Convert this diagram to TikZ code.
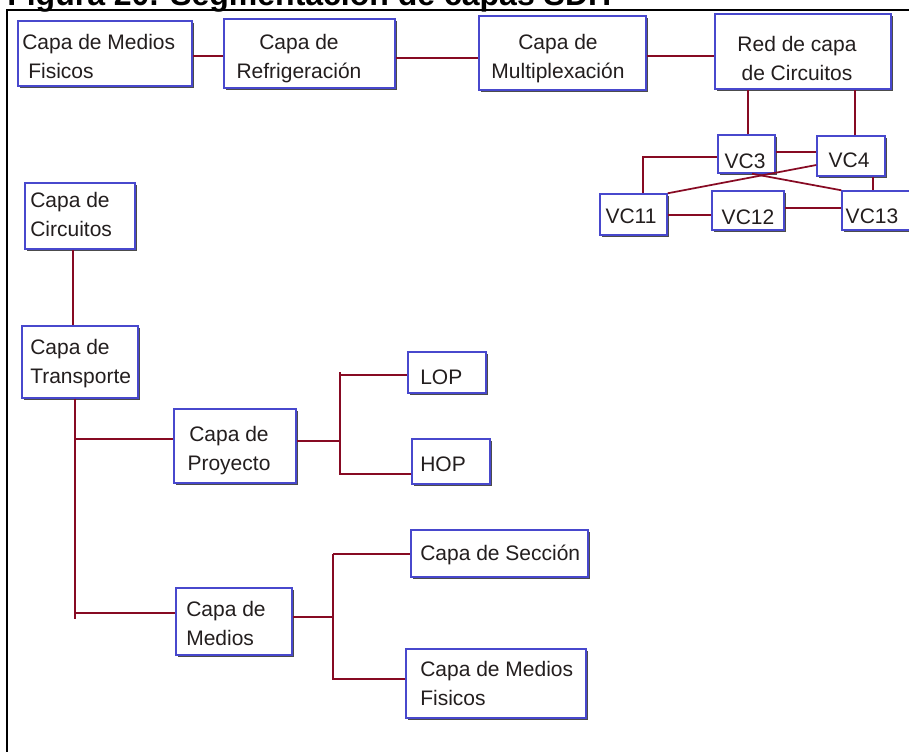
\documentclass[tikz,border=0pt]{standalone}
\usepackage{fontspec}
\setmainfont{Liberation Sans}
\usetikzlibrary{calc,shadows}
\definecolor{boxblue}{RGB}{72,72,205}
\definecolor{linkred}{RGB}{135,10,35}
\definecolor{inkc}{RGB}{35,30,30}
\newdimen\pxu \pxu=0.75pt

\begin{document}
\begin{tikzpicture}[x=0.75pt,y=-0.75pt,
  box/.style={draw=boxblue, line width=1.1pt, fill=white, inner sep=0pt,
    drop shadow={shadow xshift=1.3pt, shadow yshift=-1.3pt, opacity=1, fill=black!70}},
  lbl/.style={inner sep=0pt, text=inkc, font=\fontsize{15.75}{21.4}\selectfont},
  link/.style={draw=linkred, line width=1.8pt},
  fine link/.style={draw=linkred, line width=1.3pt},
  frame/.style={draw=black, line width=1.3pt}]
\useasboundingbox (0,0) rectangle (909,751);

% caption and frame
\node[inner sep=0pt, anchor=base west, text=black, font=\fontsize{24}{28}\selectfont\bfseries]
  (title) at (7,5.5) {Figura 20. Segmentación de capas SDH};
\coordinate (frameTL) at (7,10);
\coordinate (frameTR) at (915,10);
\coordinate (frameBL) at (7,760);
\draw[frame] (frameTR) -- (frameTL) -- (frameBL);

% top chain of layers
\node[box, minimum width=174\pxu, minimum height=65\pxu] (mf1) at (105,53.5) {};
\node[box, minimum width=171\pxu, minimum height=69\pxu] (refr) at (309.5,53.5) {};
\node[box, minimum width=167\pxu, minimum height=74\pxu] (mux) at (562.5,53) {};
\node[box, minimum width=176\pxu, minimum height=75\pxu] (red) at (803,51.5) {};

% two-line labels are placed by the baseline of their last line
\node[lbl, anchor=base west, align=left] (mf1-t) at (22,78.5) {Capa de Medios\\\hspace*{6\pxu}Fisicos};
\node[lbl, anchor=base, align=center] (refr-t) at (299,78) {Capa de\\Refrigeración};
\node[lbl, anchor=base, align=center] (mux-t) at (558,78) {Capa de\\Multiplexación};
\node[lbl, anchor=base, align=center] (red-t) at (797,80.5) {Red de capa\\de Circuitos};

% virtual containers
\node[box, minimum width=57\pxu, minimum height=38\pxu] (vc3) at (746.5,154) {};
\node[box, minimum width=68\pxu, minimum height=40\pxu] (vc4) at (851,156) {};
\node[box, minimum width=67\pxu, minimum height=41\pxu] (vc11) at (633.5,214.5) {};
\node[box, minimum width=72\pxu, minimum height=39\pxu] (vc12) at (748,210.5) {};
\node[box, minimum width=70\pxu, minimum height=39\pxu] (vc13) at (877,210.5) {};

\node[lbl, anchor=base] (vc3-t) at (745,168) {VC3};
\node[lbl, anchor=base] (vc4-t) at (849,167) {VC4};
\node[lbl, anchor=base] (vc11-t) at (631,223) {VC11};
\node[lbl, anchor=base] (vc12-t) at (748,224) {VC12};
\node[lbl, anchor=base] (vc13-t) at (872,223) {VC13};

% left hierarchy
\node[box, minimum width=110\pxu, minimum height=66\pxu] (circ) at (80,216) {};
\node[box, minimum width=116\pxu, minimum height=72\pxu] (trans) at (80,362) {};
\node[box, minimum width=122\pxu, minimum height=74\pxu] (proy) at (235,446) {};
\node[box, minimum width=78\pxu, minimum height=41\pxu] (lop) at (447,372.5) {};
\node[box, minimum width=78\pxu, minimum height=45\pxu] (hop) at (451,461.5) {};
\node[box, minimum width=116\pxu, minimum height=67\pxu] (medios) at (234,621.5) {};
\node[box, minimum width=177\pxu, minimum height=47\pxu] (secc) at (499.5,553.5) {};
\node[box, minimum width=180\pxu, minimum height=69\pxu] (mf2) at (496,683.5) {};

\node[lbl, anchor=base west, align=left] (circ-t) at (30,236.5) {Capa de\\Circuitos};
\node[lbl, anchor=base west, align=left] (trans-t) at (30,383.5) {Capa de\\Transporte};
\node[lbl, anchor=base, align=center] (proy-t) at (229,470.5) {Capa de\\Proyecto};
\node[lbl, anchor=base west] (lop-t) at (420,384) {LOP};
\node[lbl, anchor=base west] (hop-t) at (420,471) {HOP};
\node[lbl, anchor=base west, align=left] (medios-t) at (186,645.5) {Capa de\\Medios};
\node[lbl, anchor=base west] (secc-t) at (420,560) {Capa de Sección};
\node[lbl, anchor=base west, align=left] (mf2-t) at (420,705.5) {Capa de Medios\\Fisicos};

% links of the top chain
\draw[link] (mf1.east |- 0,56) -- (refr.west |- 0,56);
\draw[link] (refr.east |- 0,58) -- (mux.west |- 0,58);
\draw[link] (mux.east |- 0,56) -- (red.west |- 0,56);
\draw[fine link] (vc3.north -| 748,0) -- (red.south -| 748,0);
\draw[fine link] (vc4.north -| 855,0) -- (red.south -| 855,0);

% links between containers
\draw[fine link] (vc3.east |- 0,152) -- (vc4.west |- 0,152);
\draw[fine link] (vc3.west |- 0,157) -| (vc11.north -| 643,0);
\draw[fine link] (vc4.west |- 0,165) -- (vc11.north east);
\draw[fine link] (vc3.south -| 752,0) -- (vc13.north west);
\draw[fine link] (vc11.east |- 0,215) -- (vc12.west |- 0,215);
\draw[fine link] (vc12.east |- 0,208) -- (vc13.west |- 0,208);
\draw[fine link] (vc4.south -| 873,0) -- (vc13.north -| 873,0);

% links of the hierarchy
\coordinate (spineEnd) at (75,619);
\coordinate (pj) at (340,441);
\coordinate (mj) at (333,617);
\draw[link] (circ.south -| 73,0) -- (trans.north -| 73,0);
\draw[link] (trans.south -| spineEnd) -- (spineEnd);
\draw[link] (spineEnd |- 0,439) -- (proy.west |- 0,439);
\draw[link] (spineEnd |- 0,613) -- (medios.west |- 0,613);
\draw[fine link] (proy.east |- pj) -- (pj);
\draw[fine link] (pj |- 0,372) -- (pj |- 0,474) -- (hop.west |- 0,474);
\draw[fine link] (pj |- 0,375) -- (lop.west |- 0,375);
\draw[link] (medios.east |- mj) -- (mj);
\draw[fine link] (mj |- 0,554) -- (mj |- 0,679) -- (mf2.west |- 0,679);
\draw[fine link] (mj |- 0,554) -- (secc.west |- 0,554);
\end{tikzpicture}
\end{document}
